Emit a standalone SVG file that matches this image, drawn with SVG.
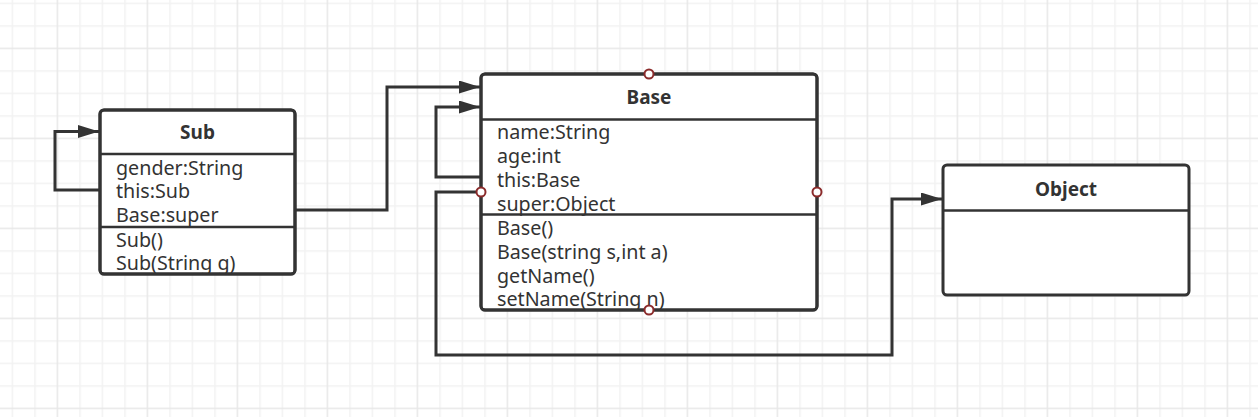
<svg xmlns="http://www.w3.org/2000/svg" width="1258" height="417" viewBox="0 0 1258 417">
  <style>
    .box { fill: #ffffff; stroke: #333333; stroke-width: 3; }
    .div { stroke: #333333; stroke-width: 2.5; }
    .title { font-family: "Noto Sans", "Liberation Sans", sans-serif; font-size: 19px; font-weight: bold; fill: #333333; text-anchor: middle; }
    .item { font-family: "Noto Sans", "Liberation Sans", sans-serif; font-size: 19.7px; fill: #333333; }
    .conn { fill: none; stroke: #333333; stroke-width: 3; stroke-linejoin: miter; }
    .handle { fill: #ffffff; stroke: #8b2b2b; stroke-width: 2; }
  </style>
  <defs>
    <pattern id="grid" patternUnits="userSpaceOnUse" x="1.25" y="-7.75" width="90" height="90">
      <rect width="90" height="90" fill="#ffffff"/>
      <path d="M11.25 0V90M33.75 0V90M78.75 0V90M0 11.25H90M0 33.75H90M0 78.75H90" stroke="#f2f2f2" stroke-width="1.5" fill="none"/>
      <path d="M56.25 0V90M0 56.25H90" stroke="#e8e8e8" stroke-width="1.5" fill="none"/>
    </pattern>
    <marker id="arrow" markerUnits="userSpaceOnUse" markerWidth="22" markerHeight="14" refX="21" refY="6.5" orient="auto">
      <path d="M0 0L21 6.5L0 13Z" fill="#333333"/>
    </marker>
    <clipPath id="clipSub"><rect x="100" y="110" width="195" height="164" rx="4"/></clipPath>
    <clipPath id="clipBase"><rect x="481" y="74" width="336" height="236" rx="4"/></clipPath>
  </defs>

  <rect width="1258" height="417" fill="url(#grid)"/>

  <g id="connectors">
    <path class="conn" d="M100 190H55V131.5H99" marker-end="url(#arrow)"/>
    <path class="conn" d="M295 210H387V87H480" marker-end="url(#arrow)"/>
    <path class="conn" d="M481 177H436V107H480" marker-end="url(#arrow)"/>
    <path class="conn" d="M476 192H436V355H892V199H942" marker-end="url(#arrow)"/>
  </g>

  <g id="node-sub">
    <rect class="box" x="100" y="110" width="195" height="164" rx="4"/>
    <line class="div" x1="100" y1="154" x2="295" y2="154"/>
    <line class="div" x1="100" y1="227" x2="295" y2="227"/>
    <text class="title" x="197.5" y="139">Sub</text>
    <g clip-path="url(#clipSub)">
      <text class="item" x="116" y="175">gender:String</text>
      <text class="item" x="116" y="198.3">this:Sub</text>
      <text class="item" x="116" y="221.7">Base:super</text>
      <text class="item" x="116" y="246.7">Sub()</text>
      <text class="item" x="116" y="270">Sub(String g)</text>
    </g>
    <rect x="100" y="110" width="195" height="164" rx="4" fill="none" stroke="#333333" stroke-width="3"/>
  </g>

  <g id="node-base">
    <rect class="box" x="481" y="74" width="336" height="236" rx="4"/>
    <line class="div" x1="481" y1="119.5" x2="817" y2="119.5"/>
    <line class="div" x1="481" y1="214.5" x2="817" y2="214.5"/>
    <text class="title" x="649" y="104">Base</text>
    <g clip-path="url(#clipBase)">
      <text class="item" x="497" y="139.3">name:String</text>
      <text class="item" x="497" y="162.7">age:int</text>
      <text class="item" x="497" y="186.7">this:Base</text>
      <text class="item" x="497" y="210.7">super:Object</text>
      <text class="item" x="497" y="235">Base()</text>
      <text class="item" x="497" y="259">Base(string s,int a)</text>
      <text class="item" x="497" y="282.7">getName()</text>
      <text class="item" x="497" y="306">setName(String n)</text>
    </g>
    <rect x="481" y="74" width="336" height="236" rx="4" fill="none" stroke="#333333" stroke-width="3"/>
    <circle class="handle" cx="649" cy="74" r="4.5"/>
    <circle class="handle" cx="649" cy="310" r="4.5"/>
    <circle class="handle" cx="481" cy="192" r="4.5"/>
    <circle class="handle" cx="817" cy="192" r="4.5"/>
  </g>

  <g id="node-object">
    <rect class="box" x="943" y="165" width="246" height="130" rx="4"/>
    <line class="div" x1="943" y1="210.5" x2="1189" y2="210.5"/>
    <text class="title" x="1066" y="195.5">Object</text>
  </g>
</svg>
